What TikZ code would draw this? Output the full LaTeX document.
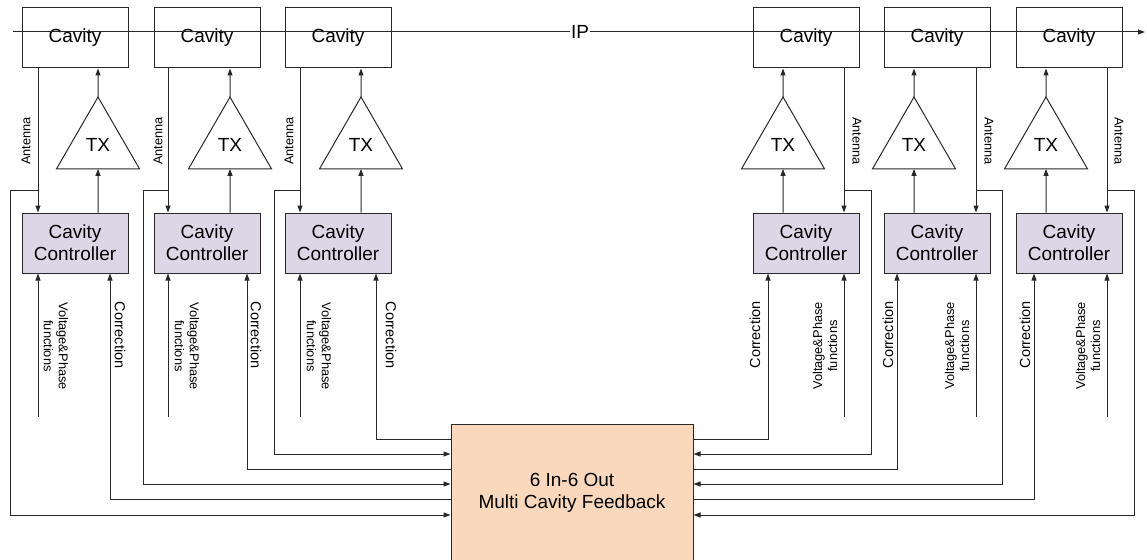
\documentclass[tikz,border=0pt]{standalone}
\usepackage{fontspec}
\setmainfont{Liberation Sans}
\usetikzlibrary{arrows.meta,shapes.geometric}
\definecolor{ctlfill}{RGB}{221,214,230}
\definecolor{fbfill}{RGB}{249,216,188}
\definecolor{wirecol}{RGB}{40,40,40}
\tikzset{
  wire/.style={draw=wirecol, line width=1pt},
  arr/.style={wire, -{Triangle[length=7pt,width=5pt]}},
  bigtext/.style={font=\fontsize{19}{22}\selectfont},
  cavbox/.style={draw=wirecol, line width=1pt, fill=white, minimum width=106pt,
    minimum height=60pt, inner sep=0pt, align=center, bigtext},
  ctlbox/.style={cavbox, fill=ctlfill},
  txtri/.style={draw=wirecol, line width=1pt, regular polygon, regular polygon sides=3,
    minimum size=95.8pt, inner sep=0pt, outer sep=0pt, bigtext},
  fbbox/.style={draw=wirecol, line width=1pt, fill=fbfill, minimum width=242pt,
    minimum height=137pt, align=center, bigtext},
  smalllbl/.style={font=\fontsize{12.8}{15}\selectfont, align=center, inner sep=0pt},
  corrlbl/.style={font=\fontsize{14.5}{17}\selectfont, inner sep=0pt},
}
\begin{document}
\begin{tikzpicture}[x=1pt, y=-1pt]
\useasboundingbox (0,0) rectangle (1147,559);
\clip (0,0) rectangle (1147,559);

% central feedback unit (runs past the lower edge)
\node[fbbox] (fb) at (572,492.5) {6 In-6 Out\\Multi Cavity Feedback};

% one column per cavity:
% index / box left / antenna x / TX x / loop x / correction x / correction y /
% loop y / antenna label x / V&P label x / correction label x / fb side / label turn
\foreach \i/\L/\ax/\tx/\lx/\cx/\cy/\ly/\alx/\vlx/\clx/\sd/\rr in {
  1/22/38/98/10/110/499/515/26/56/120/west/1,
  2/154/168/230/143/247/469/484/158/187/256/west/1,
  3/285/300/361/274/376/439/454/289/319/391/west/1,
  4/753/844/783/871/768/439/454/857/825/755/east/-1,
  5/884/976/914/1002/897/469/484/989/957/888/east/-1,
  6/1016/1107/1046/1134/1034/499/515/1119/1088/1025/east/-1}{
  \node[cavbox] (cav\i) at (\L+53,38) {Cavity};
  \node[ctlbox] (ctl\i) at (\L+53,243) {Cavity\\Controller};
  \node[txtri] (tx\i) at (\tx,144.9) {TX};
  \coordinate (ant\i) at (\ax,190);
  \coordinate (lp\i) at (\lx,190);
  \coordinate (vp\i) at (\ax,417);
  % antenna pick-up and its branch to the feedback unit
  \draw[arr] (cav\i.south -| ant\i) -- (ctl\i.north -| ant\i);
  \draw[arr] (ant\i) -- (lp\i) -- (lp\i |- 0,\ly) -- (fb.\sd |- 0,\ly);
  % correction back from the feedback unit
  \draw[arr] (fb.\sd |- 0,\cy) -| (ctl\i.south -| \cx,0);
  % voltage & phase set-point input
  \draw[arr] (vp\i) -- (ctl\i.south -| vp\i);
  % drive chain
  \draw[arr] (ctl\i.north -| tx\i) -- (tx\i.south);
  \draw[arr] (tx\i.north) -- (cav\i.south -| tx\i);
  % labels
  \node[smalllbl, rotate=90*\rr] (alab\i) at (\alx,141) {Antenna};
  \node[smalllbl, rotate=-90*\rr] (vlab\i) at (\vlx,346) {Voltage\&Phase\\functions};
  \node[corrlbl, rotate=-90*\rr] (clab\i) at (\clx,335) {Correction};
}

% beam line through the cavities
\coordinate (ipa) at (13,32);
\coordinate (ipb) at (1145,32);
\draw[arr] (ipa) -- (ipb) node[pos=0.501, fill=white, inner sep=1pt, bigtext] (ip) {IP};
\end{tikzpicture}
\end{document}
